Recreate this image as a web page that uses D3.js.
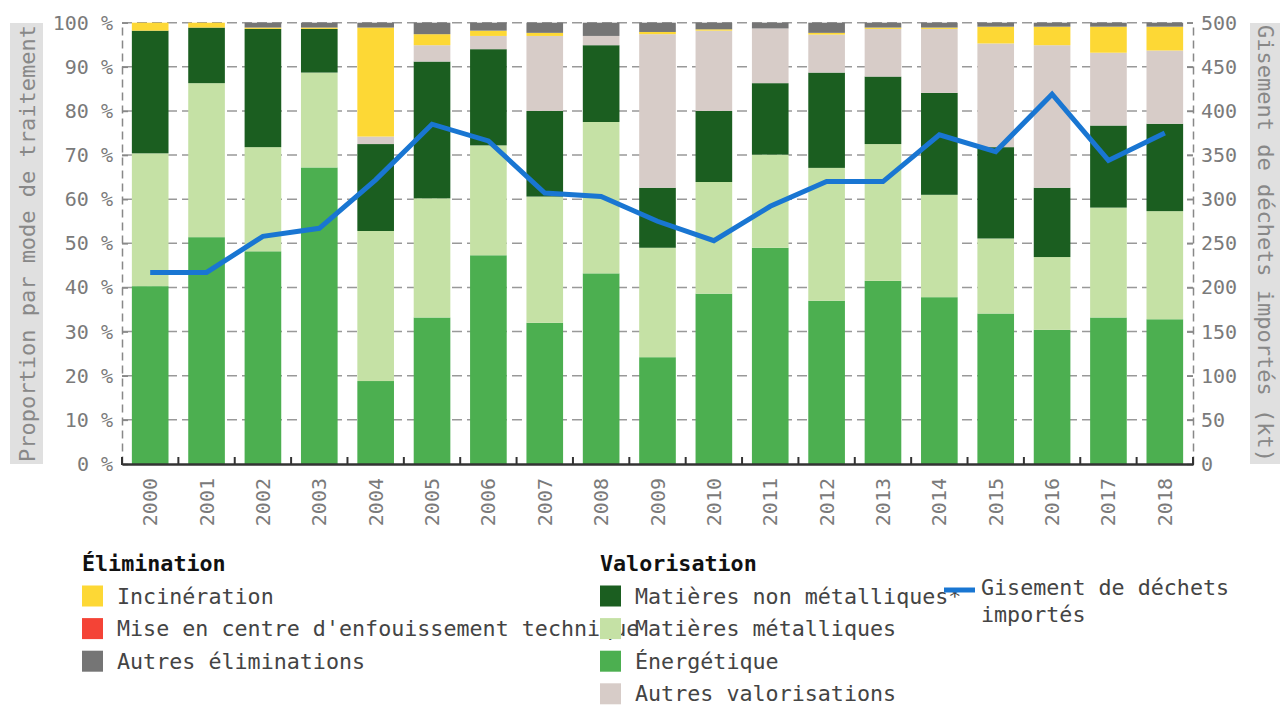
<!DOCTYPE html>
<html>
<head>
<meta charset="utf-8">
<script src="https://cdn.jsdelivr.net/npm/d3@7"></script>
<style>
  html, body { margin: 0; padding: 0; background: #fff; }
  svg { display: block; font-family: "DejaVu Sans Mono", monospace; }
</style>
</head>
<body>
<svg id="chart" width="1280" height="705"></svg>
<script>
// ---- Data ----
const years = ["2000","2001","2002","2003","2004","2005","2006","2007","2008","2009","2010","2011","2012","2013","2014","2015","2016","2017","2018"];
const energetique   = [40.3,51.4,48.2,67.2,18.8,33.2,47.3,32.0,43.2,24.2,38.6,49.0,37.0,41.5,37.8,34.1,30.4,33.2,32.8];
const metalliques   = [30.1,34.9,23.6,21.5,34.0,27.0,24.9,28.6,34.3,24.8,25.3,21.1,30.1,31.0,23.2,17.0,16.5,24.9,24.5];
const nonMetalliques= [27.8,12.6,26.8, 9.9,19.7,31.0,21.8,19.4,17.4,13.6,16.1,16.2,21.6,15.3,23.1,20.7,15.7,18.6,19.8];
const autresValo    = [0,0,0,0,1.7,3.7,3.0,17.0,2.1,34.8,18.2,12.4,8.6,10.8,14.5,23.5,32.3,16.5,16.6];
const enfouissement = [0,0,0,0,0,0,0,0,0,0,0,0,0,0,0,0,0,0,0];
const incineration  = [1.8,1.1,0.3,0.3,24.7,2.5,1.2,0.7,0,0.5,0.3,0,0.4,0.3,0.3,3.8,4.2,5.9,5.4];
const autresElim    = [0,0,1.1,1.1,1.1,2.6,1.8,2.3,3.0,2.1,1.5,1.3,2.3,1.1,1.1,0.9,0.9,0.9,0.9];
const gisement      = [217,217,258,267,322,385,366,307,303,275,253,292,320,320,373,354,419,344,375];

const pctTicks = [0,10,20,30,40,50,60,70,80,90,100];
const ktTicks = [0,50,100,150,200,250,300,350,400,450,500];

const seriesKeys = ["energetique","metalliques","nonMetalliques","autresValo","enfouissement","incineration","autresElim"];
const seriesLabels = {
  incineration: "Incinération",
  enfouissement: "Mise en centre d'enfouissement technique",
  autresElim: "Autres éliminations",
  nonMetalliques: "Matières non métalliques*",
  metalliques: "Matières métalliques",
  energetique: "Énergétique",
  autresValo: "Autres valorisations"
};
const colors = {
  energetique: "#4caf50",
  metalliques: "#c5e1a5",
  nonMetalliques: "#1b5e20",
  autresValo: "#d7ccc8",
  enfouissement: "#f44336",
  incineration: "#fdd835",
  autresElim: "#757575"
};
const lineColor = "#1976d2";

const table = years.map((y, i) => ({
  year: y,
  energetique: energetique[i],
  metalliques: metalliques[i],
  nonMetalliques: nonMetalliques[i],
  autresValo: autresValo[i],
  enfouissement: enfouissement[i],
  incineration: incineration[i],
  autresElim: autresElim[i]
}));

// ---- Layout ----
const svg = d3.select("#chart");
const plotLeft = 122, plotRight = 1193, plotTop = 22.7, plotBottom = 464;

const x = d3.scaleBand().domain(years).range([plotLeft, plotRight]).paddingInner(0.35).paddingOuter(0.175);
const yPct = d3.scaleLinear().domain([0, 100]).range([plotBottom, plotTop]);
const yKt = d3.scaleLinear().domain([0, 500]).range([plotBottom, plotTop]);

const textColor = "#7a7a7a";
const legendFont = 21.7;

// Axis title boxes
svg.append("rect").attr("x", 10).attr("y", 23).attr("width", 33).attr("height", 441).attr("fill", "#e0e0e0");
svg.append("text")
  .attr("transform", `translate(27,${(23+464)/2}) rotate(-90)`)
  .attr("text-anchor", "middle").attr("dy", "0.35em")
  .attr("font-size", 22).attr("fill", "#888")
  .text("Proportion par mode de traitement");

svg.append("rect").attr("x", 1250).attr("y", 23).attr("width", 40).attr("height", 441).attr("fill", "#e0e0e0");
svg.append("text")
  .attr("transform", `translate(1266,${(23+464)/2}) rotate(90)`)
  .attr("text-anchor", "middle").attr("dy", "0.35em")
  .attr("font-size", 22).attr("fill", "#888")
  .text("Gisement de déchets importés (kt)");

// Gridlines
svg.append("g").selectAll("line").data(pctTicks.filter(d => d > 0)).join("line")
  .attr("x1", plotLeft).attr("x2", plotRight)
  .attr("y1", d => yPct(d)).attr("y2", d => yPct(d))
  .attr("stroke", "#999").attr("stroke-width", 1.5)
  .attr("stroke-dasharray", "10,5");

// Bars
const stacked = d3.stack().keys(seriesKeys)(table);
svg.append("g").selectAll("g").data(stacked).join("g")
  .attr("fill", d => colors[d.key])
  .selectAll("rect").data(d => d).join("rect")
  .attr("x", d => x(d.data.year))
  .attr("width", x.bandwidth())
  .attr("y", d => yPct(d[1]))
  .attr("height", d => Math.max(0, yPct(d[0]) - yPct(d[1])));

// Left axis
const gL = svg.append("g").attr("transform", `translate(${plotLeft},0)`)
  .call(d3.axisLeft(yPct).tickValues(pctTicks).tickFormat(d => d + " %")
    .tickSizeInner(-6).tickSizeOuter(0).tickPadding(9));
gL.select(".domain").attr("stroke", "#888").attr("stroke-width", 1.5).attr("stroke-dasharray", "8,5");
gL.selectAll(".tick line").attr("stroke", "#888").attr("stroke-width", 1.5);
gL.selectAll("text").attr("font-size", 20).attr("fill", textColor).attr("font-family", "DejaVu Sans Mono");

// Right axis
const gR = svg.append("g").attr("transform", `translate(${plotRight},0)`)
  .call(d3.axisRight(yKt).tickValues(ktTicks)
    .tickSizeInner(-6).tickSizeOuter(0).tickPadding(8));
gR.select(".domain").attr("stroke", "#888").attr("stroke-width", 1.5).attr("stroke-dasharray", "8,5");
gR.selectAll(".tick line").attr("stroke", "#888").attr("stroke-width", 1.5);
gR.selectAll("text").attr("font-size", 20).attr("fill", textColor).attr("font-family", "DejaVu Sans Mono");

// Bottom axis
const gB = svg.append("g").attr("transform", `translate(0,${plotBottom})`)
  .call(d3.axisBottom(x).tickSize(0).tickPadding(0));
gB.select(".domain").attr("stroke", "#333").attr("stroke-width", 2.5);
gB.selectAll(".tick text")
  .attr("font-size", 20).attr("fill", textColor).attr("font-family", "DejaVu Sans Mono")
  .attr("text-anchor", "end")
  .attr("transform", "translate(0,14) rotate(-90)")
  .attr("x", 0).attr("y", 0).attr("dy", "0.35em");
// boundary ticks between bands
const boundaries = years.slice(0, -1).map(yr => x(yr) + x.bandwidth() + x.step() * x.paddingInner() / 2);
svg.append("g").selectAll("line").data(boundaries).join("line")
  .attr("x1", d => d).attr("x2", d => d)
  .attr("y1", plotBottom).attr("y2", plotBottom - 7)
  .attr("stroke", "#333").attr("stroke-width", 2);
svg.append("g").selectAll("line").data([plotLeft, plotRight]).join("line")
  .attr("x1", d => d).attr("x2", d => d)
  .attr("y1", plotBottom + 1).attr("y2", plotBottom - 7)
  .attr("stroke", "#333").attr("stroke-width", 2);

// Line
const line = d3.line()
  .x((d, i) => x(years[i]) + x.bandwidth() / 2)
  .y(d => yKt(d));
svg.append("path").datum(gisement)
  .attr("d", line)
  .attr("fill", "none").attr("stroke", lineColor).attr("stroke-width", 5);

// Legend
const legend = svg.append("g");
function legendGroup(gx, title, keys) {
  const g = legend.append("g");
  g.append("text").attr("x", gx).attr("y", 563).attr("dy", "0.35em")
    .attr("font-size", legendFont).attr("font-weight", "bold").attr("fill", "#111")
    .text(title);
  keys.forEach((k, i) => {
    const cy = 596 + i * 32.6;
    g.append("rect").attr("x", gx).attr("y", cy - 10.5).attr("width", 21).attr("height", 21)
      .attr("fill", colors[k]);
    g.append("text").attr("x", gx + 35).attr("y", cy).attr("dy", "0.35em")
      .attr("font-size", legendFont).attr("fill", "#444").text(seriesLabels[k]);
  });
}
legendGroup(82, "Élimination", ["incineration", "enfouissement", "autresElim"]);
legendGroup(600, "Valorisation", ["nonMetalliques", "metalliques", "energetique", "autresValo"]);

const lg = legend.append("g");
lg.append("line").attr("x1", 944).attr("x2", 975).attr("y1", 590).attr("y2", 590)
  .attr("stroke", lineColor).attr("stroke-width", 5);
lg.append("text").attr("x", 981).attr("y", 587).attr("dy", "0.35em")
  .attr("font-size", legendFont).attr("fill", "#444").text("Gisement de déchets");
lg.append("text").attr("x", 981).attr("y", 614).attr("dy", "0.35em")
  .attr("font-size", legendFont).attr("fill", "#444").text("importés");
</script>
</body>
</html>
